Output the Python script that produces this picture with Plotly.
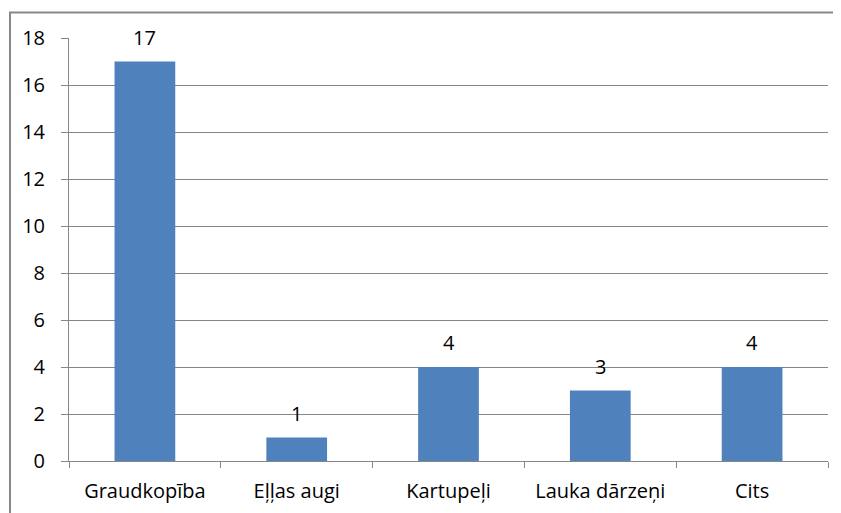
import plotly.graph_objects as go

categories = ["Graudkopība", "Eļļas augi", "Kartupeļi", "Lauka dārzeņi", "Cits"]
values = [17, 1, 4, 3, 4]
y_ticks = [0, 2, 4, 6, 8, 10, 12, 14, 16, 18]

OFF = 8  # page body margin
W, H = 841 - OFF, 513 - OFF
L, R, T, B = 69 - OFF, 13, 38 - OFF, 52
pw, ph = W - L - R, H - T - B

FONT = dict(family="'Open Sans', sans-serif", size=20, color="#000000")
GRID = "#868686"

fig = go.Figure(go.Bar(
    x=categories, y=values, width=0.4,
    marker=dict(color="#4F81BD", line=dict(width=0)),
    hoverinfo="skip",
))

for c, v in zip(categories, values):
    fig.add_annotation(x=c, y=v, text=str(v), showarrow=False,
                       yanchor="bottom", yshift=9, font=FONT)

# outer chart border (page coords: left 10, top 12.5)
fig.add_shape(type="rect", xref="paper", yref="paper",
              x0=(10 - OFF - L) / pw, x1=(W + 20 - L) / pw,
              y0=(H - B - (H + 20)) / ph, y1=(H - B - (12.5 - OFF)) / ph,
              line=dict(color="#888888", width=2), layer="below")

fig.update_layout(
    width=W, height=H,
    margin=dict(l=L, r=R, t=T, b=B, autoexpand=False),
    paper_bgcolor="white", plot_bgcolor="white",
    font=FONT, showlegend=False, bargap=0.6,
    xaxis=dict(showgrid=False, showline=True, linecolor=GRID, linewidth=1,
               ticks="outside", tickson="boundaries", ticklen=6, tickcolor=GRID,
               ticklabelstandoff=12, fixedrange=True, automargin=False),
    yaxis=dict(range=[0, 18], tickvals=y_ticks, showgrid=True, gridcolor=GRID,
               gridwidth=1, showline=True, linecolor=GRID, linewidth=1,
               ticks="outside", ticklen=7, tickcolor=GRID, zeroline=False,
               ticklabelstandoff=12, fixedrange=True, automargin=False),
)

fig.write_html("out.html")
